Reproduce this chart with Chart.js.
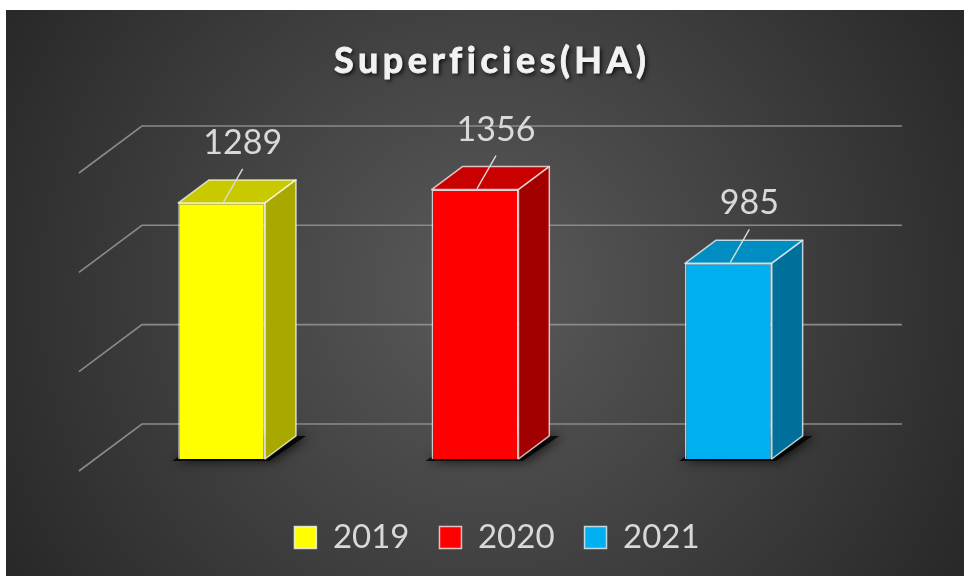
<!DOCTYPE html>
<html lang="fr">
<head>
<meta charset="utf-8">
<title>Superficies(HA)</title>
<script src="https://cdn.jsdelivr.net/npm/chart.js@4.4.1/dist/chart.umd.min.js"></script>
<style>
    html, body { margin: 0; padding: 0; background: #fff; }
    canvas { display: block; }
</style>
</head>
<body>
<canvas id="myChart" width="964" height="576"></canvas>
<script>
// Données du graphique
let annees = ['2019', '2020', '2021'];
let superficies = [1289, 1356, 985];
let couleurs = ['#ffff00', '#ff0000', '#00b0f0'];
let couleursDessus = ['#c9c900', '#c80000', '#008dc2'];
let couleursCote = ['#a8a800', '#a20000', '#006f99'];
let echelleMax = 1500;
let echellePas = 500;

// Effet 3D : vecteur de profondeur du sol (de l'avant vers le fond)
const PROF = { x: 63, y: -47 };
const MUR_FOND = 0.745;   // mur du fond par rapport à la face avant des barres
const BORD_AVANT = 0.255; // bord avant du sol
const EPAISSEUR = 0.49;   // profondeur des barres
const BORDURE = 'rgba(255,255,255,0.72)';
const TEXTE = '#d9d9d9';

function forme(ctx, pts) {
    ctx.beginPath();
    ctx.moveTo(pts[0][0], pts[0][1]);
    for (let i = 1; i < pts.length; i++) ctx.lineTo(pts[i][0], pts[i][1]);
    ctx.closePath();
}

// parcourt les barres visibles (un seul point non nul par série)
function chaqueBarre(chart, fn) {
    chart.data.datasets.forEach((ds, i) => {
        let meta = chart.getDatasetMeta(i);
        meta.data.forEach((el, j) => {
            if (ds.data[j] == null) return;
            fn(el, i, ds.data[j]);
        });
    });
}

const decor3d = {
    id: 'decor3d',
    beforeDraw(chart) {
        let ctx = chart.ctx;
        ctx.save();
        ctx.fillStyle = '#ffffff';
        ctx.fillRect(0, 0, chart.width, chart.height);
        let g = ctx.createRadialGradient(485, 290, 0, 485, 290, 600);
        g.addColorStop(0, '#5a5a5a');
        g.addColorStop(1, '#242424');
        ctx.fillStyle = g;
        ctx.fillRect(6, 10, chart.width - 6, chart.height - 10);
        ctx.restore();
    },
    beforeDatasetsDraw(chart) {
        let ctx = chart.ctx;
        let area = chart.chartArea;
        let y = chart.scales.y;
        let fx = PROF.x * MUR_FOND, fy = PROF.y * MUR_FOND;
        let ax = -PROF.x * BORD_AVANT, ay = -PROF.y * BORD_AVANT;

        // quadrillage : mur du fond + mur de gauche
        ctx.save();
        ctx.strokeStyle = '#8a8a8a';
        ctx.lineWidth = 1.6;
        y.ticks.forEach(t => {
            let py = y.getPixelForValue(t.value);
            ctx.beginPath();
            ctx.moveTo(area.left + ax, py + ay);
            ctx.lineTo(area.left + fx, py + fy);
            ctx.lineTo(area.right + fx, py + fy);
            ctx.stroke();
        });
        ctx.restore();

        // ombres au pied des barres
        let dx = PROF.x * EPAISSEUR, dy = PROF.y * EPAISSEUR;
        chaqueBarre(chart, el => {
            let x0 = el.x - el.width / 2, x1 = el.x + el.width / 2, b = el.base;
            ctx.save();
            ctx.shadowColor = 'rgba(0,0,0,0.95)';
            ctx.shadowBlur = 12;
            ctx.shadowOffsetX = 3;
            ctx.fillStyle = 'rgba(0,0,0,0.8)';
            forme(ctx, [[x0 - 6, b + 2], [x1 + 4, b + 2], [x1 + dx + 10, b + dy], [x0 + dx, b + dy]]);
            ctx.fill();
            ctx.restore();
        });
    },
    afterDatasetsDraw(chart) {
        let ctx = chart.ctx;
        let dx = PROF.x * EPAISSEUR, dy = PROF.y * EPAISSEUR;
        chaqueBarre(chart, (el, i, valeur) => {
            let x0 = el.x - el.width / 2, x1 = el.x + el.width / 2;
            let h = el.y, b = el.base;
            ctx.save();
            ctx.lineWidth = 1.5;
            ctx.strokeStyle = BORDURE;
            ctx.lineJoin = 'round';
            // dessus
            forme(ctx, [[x0, h], [x1, h], [x1 + dx, h + dy], [x0 + dx, h + dy]]);
            ctx.fillStyle = couleursDessus[i];
            ctx.fill();
            ctx.stroke();
            // côté droit
            forme(ctx, [[x1, h], [x1 + dx, h + dy], [x1 + dx, b + dy], [x1, b]]);
            ctx.fillStyle = couleursCote[i];
            ctx.fill();
            ctx.stroke();

            // étiquette de valeur avec trait de rappel
            ctx.strokeStyle = TEXTE;
            ctx.lineWidth = 1.4;
            ctx.beginPath();
            ctx.moveTo(el.x + 21, h - 34);
            ctx.lineTo(el.x + 2, h - 1);
            ctx.stroke();
            ctx.fillStyle = TEXTE;
            ctx.font = '34px Lato';
            ctx.textAlign = 'center';
            ctx.textBaseline = 'middle';
            ctx.fillText(String(valeur), el.x + 21, h - 60);
            ctx.restore();
        });
    },
    afterDraw(chart) {
        // titre avec ombre portée
        let ctx = chart.ctx;
        let titre = 'Superficies(HA)';
        ctx.save();
        ctx.font = 'bold 36px Lato';
        ctx.letterSpacing = '4.5px';
        ctx.textAlign = 'left';
        ctx.textBaseline = 'middle';
        let w = ctx.measureText(titre).width - 4.5;
        let x = 490 - w / 2;
        ctx.shadowColor = 'rgba(0,0,0,0.85)';
        ctx.shadowBlur = 4;
        ctx.shadowOffsetX = 2;
        ctx.shadowOffsetY = 2;
        ctx.fillStyle = '#f2f2f2';
        ctx.fillText(titre, x, 61);
        ctx.shadowColor = 'transparent';
        ctx.strokeStyle = '#f2f2f2';
        ctx.lineWidth = 0.9;
        ctx.strokeText(titre, x, 61);
        ctx.restore();
    }
};

let datasets = annees.map((annee, i) => ({
    label: annee,
    data: annees.map((_, j) => (j === i ? superficies[i] : null)),
    backgroundColor: couleurs[i],
    borderColor: BORDURE,
    borderWidth: 1.5
}));

let ctx = document.getElementById('myChart').getContext('2d');
let myChart = new Chart(ctx, {
    type: 'bar',
    data: { labels: annees, datasets: datasets },
    options: {
        responsive: false,
        animation: false,
        skipNull: true,
        categoryPercentage: 0.343,
        barPercentage: 1,
        layout: { padding: { left: 95, right: 65, top: 161, bottom: 12 } },
        scales: {
            x: {
                display: true,
                grid: { display: false },
                border: { display: false },
                ticks: { display: false },
                afterFit: s => { s.height = 32; }
            },
            y: {
                position: 'right',
                min: 0,
                max: echelleMax,
                grid: { display: false },
                border: { display: false },
                ticks: { display: false, stepSize: echellePas },
                afterFit: s => { s.width = 44; }
            }
        },
        plugins: {
            title: { display: false },
            tooltip: { enabled: false },
            legend: {
                position: 'bottom',
                labels: {
                    color: TEXTE,
                    font: { family: 'Lato', size: 33 },
                    boxWidth: 22,
                    boxHeight: 22,
                    padding: 30
                }
            }
        }
    },
    plugins: [decor3d]
});
</script>
</body>
</html>
